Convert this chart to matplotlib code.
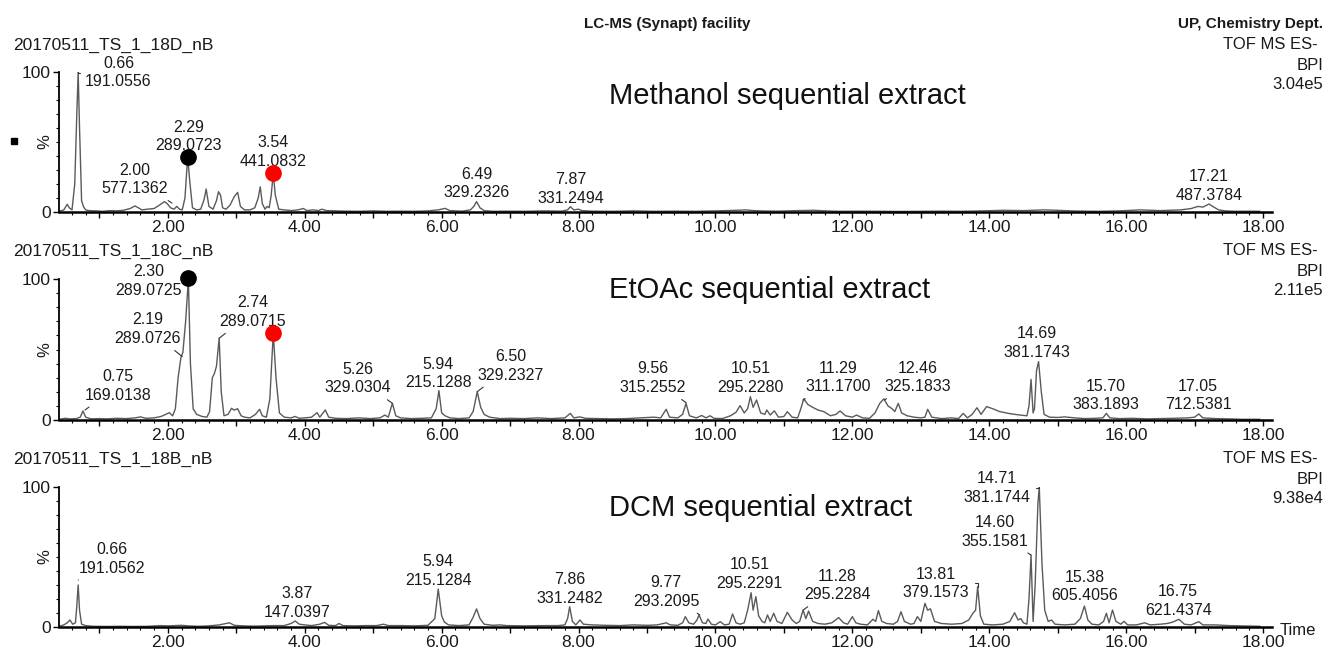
import numpy as np
import matplotlib
matplotlib.use("Agg")
import matplotlib.pyplot as plt
from matplotlib.ticker import MultipleLocator, FuncFormatter

plt.rcParams['font.family'] = ['Liberation Sans', 'DejaVu Sans']

W, H = 1327, 648

# ---- traces: (retention time [min], intensity [%]) ----
methanol_trace = [
    (0.41, 0.5), (0.48, 1.5), (0.53, 5.5), (0.56, 3), (0.60, 1.5), (0.64, 20), (0.67, 70), (0.69, 100),
    (0.71, 60), (0.74, 8), (0.77, 3.5), (0.80, 1.5), (0.85, 1), (0.95, 0.8), (1.05, 0.5), (1.15, 1),
    (1.25, 0.8), (1.35, 1.2), (1.45, 2.5), (1.52, 4.3), (1.57, 3), (1.62, 1.5), (1.70, 2), (1.80, 2.5),
    (1.88, 5), (1.95, 7.4), (1.99, 6), (2.04, 3), (2.09, 2), (2.13, 4), (2.17, 2), (2.21, 1.5),
    (2.25, 10), (2.29, 39.5), (2.32, 22), (2.36, 3), (2.42, 1.5), (2.48, 2), (2.53, 9), (2.56, 16.4),
    (2.60, 4), (2.66, 2), (2.71, 8), (2.74, 14.5), (2.77, 12), (2.80, 3), (2.85, 2), (2.91, 5),
    (2.97, 11), (3.02, 14), (3.06, 4), (3.12, 1.5), (3.20, 1.5), (3.27, 3), (3.32, 10), (3.35, 18),
    (3.38, 6), (3.42, 2), (3.45, 4), (3.48, 3), (3.51, 12), (3.54, 27.6), (3.57, 12), (3.62, 2),
    (3.70, 1.5), (3.80, 1), (3.90, 1.5), (3.98, 2.5), (4.03, 1), (4.12, 1.5), (4.20, 1), (4.25, 2),
    (4.32, 1), (4.45, 0.8), (4.60, 0.6), (4.80, 0.5), (5.00, 0.8), (5.20, 0.5), (5.40, 0.6), (5.60, 0.5),
    (5.80, 0.8), (5.95, 1.5), (6.05, 2.6), (6.12, 1), (6.30, 0.6), (6.42, 1.5), (6.47, 4), (6.51, 7.4),
    (6.56, 3), (6.62, 1), (6.75, 0.5), (6.95, 0.6), (7.20, 0.5), (7.50, 0.8), (7.75, 0.6), (7.84, 1.5),
    (7.88, 3.8), (7.93, 1.5), (8.00, 2), (8.05, 1), (8.20, 0.6), (8.50, 0.5), (8.80, 0.8), (9.10, 0.5),
    (9.40, 0.6), (9.70, 0.5), (10.00, 0.8), (10.30, 1.2), (10.45, 1.5), (10.55, 1), (10.65, 0.8),
    (10.90, 0.6), (11.20, 1), (11.45, 1.2), (11.60, 0.8), (11.80, 0.5), (12.10, 0.6), (12.40, 0.5),
    (12.70, 0.4), (13.00, 0.5), (13.30, 0.6), (13.60, 0.5), (13.90, 0.8), (14.20, 1.2), (14.50, 1),
    (14.80, 1.5), (15.00, 1.2), (15.20, 0.8), (15.40, 0.6), (15.60, 0.5), (15.90, 0.8), (16.20, 1.5),
    (16.50, 1), (16.80, 1.5), (16.95, 2.5), (17.05, 4), (17.12, 3.5), (17.21, 5.7), (17.28, 3.5),
    (17.35, 1.5), (17.45, 0.8), (17.60, 0.5), (17.80, 0.6), (17.95, 0.5),
]

etoac_trace = [
    (0.41, 0.5), (0.50, 1.2), (0.58, 0.8), (0.66, 1.0), (0.72, 2), (0.76, 6.4), (0.80, 2), (0.88, 0.8),
    (1.00, 1), (1.10, 0.8), (1.25, 1.2), (1.40, 1), (1.52, 1.5), (1.60, 2.2), (1.68, 1.2), (1.80, 1.5),
    (1.90, 2.5), (1.97, 4), (2.02, 5.2), (2.07, 3), (2.11, 8), (2.15, 30), (2.19, 44), (2.22, 48),
    (2.26, 70), (2.30, 100), (2.33, 40), (2.37, 8), (2.42, 4), (2.50, 2.5), (2.57, 2), (2.61, 6),
    (2.65, 30), (2.68, 33), (2.71, 38), (2.75, 58), (2.78, 20), (2.82, 3), (2.88, 4), (2.93, 8.3),
    (2.97, 7), (3.02, 8), (3.07, 3), (3.12, 2), (3.20, 1.5), (3.28, 4), (3.34, 7.6), (3.38, 3),
    (3.44, 2), (3.49, 15), (3.54, 61.5), (3.58, 30), (3.63, 5), (3.70, 2), (3.80, 1.5), (3.86, 2.5),
    (3.92, 1.2), (4.00, 1.5), (4.10, 2), (4.18, 5.2), (4.22, 2), (4.30, 7.1), (4.35, 2), (4.45, 1.2),
    (4.60, 1), (4.80, 1.5), (4.95, 1), (5.10, 1.5), (5.17, 3.5), (5.22, 2), (5.28, 11.8), (5.33, 3),
    (5.40, 1.5), (5.55, 1), (5.70, 1.2), (5.85, 1.5), (5.92, 8), (5.96, 20.8), (6.00, 5), (6.05, 3),
    (6.12, 1.5), (6.25, 1), (6.40, 1.5), (6.46, 6), (6.52, 20.1), (6.57, 9), (6.62, 4), (6.70, 2),
    (6.85, 1), (7.00, 1.2), (7.20, 1), (7.40, 1.5), (7.60, 1), (7.80, 1.5), (7.88, 4.7), (7.93, 1.5),
    (8.02, 2.2), (8.10, 1.2), (8.30, 1), (8.50, 0.8), (8.70, 1), (8.90, 1.5), (9.10, 2), (9.20, 1.5),
    (9.28, 7.6), (9.33, 2), (9.45, 1.5), (9.52, 4), (9.57, 11.8), (9.62, 3), (9.72, 1.5), (9.80, 3.2),
    (9.86, 1.5), (9.92, 3), (9.98, 1.2), (10.10, 1), (10.22, 3), (10.30, 5.5), (10.36, 10.2),
    (10.42, 5), (10.47, 8), (10.51, 16.5), (10.55, 9), (10.60, 14.2), (10.66, 5), (10.72, 4),
    (10.75, 7.1), (10.80, 3.5), (10.86, 6.5), (10.92, 2), (11.00, 2.5), (11.05, 5.9), (11.12, 2),
    (11.20, 1.5), (11.24, 7), (11.29, 15), (11.35, 11), (11.42, 9), (11.50, 7), (11.58, 6),
    (11.68, 3), (11.76, 4), (11.82, 6.4), (11.90, 3), (12.00, 2), (12.06, 3.5), (12.15, 1.5),
    (12.25, 1.2), (12.33, 5), (12.40, 11.8), (12.46, 15), (12.52, 10), (12.58, 8), (12.62, 6),
    (12.67, 11.8), (12.72, 5), (12.80, 3), (12.90, 2), (13.00, 1.5), (13.06, 2), (13.10, 7.6),
    (13.16, 2), (13.30, 1), (13.45, 1.5), (13.55, 1), (13.62, 4.7), (13.68, 1.5), (13.75, 4),
    (13.82, 8.7), (13.88, 4), (13.96, 9.5), (14.05, 8), (14.15, 6), (14.30, 4.5), (14.45, 3.5),
    (14.55, 3), (14.58, 10), (14.61, 28.8), (14.64, 5), (14.66, 8), (14.69, 35), (14.72, 41.4),
    (14.76, 20), (14.80, 4), (14.88, 2), (15.00, 1.8), (15.10, 2.2), (15.25, 1.5), (15.40, 1),
    (15.55, 1.2), (15.66, 1.5), (15.71, 4.7), (15.76, 1.5), (15.90, 1), (16.10, 1.2), (16.30, 0.8),
    (16.50, 1), (16.70, 1.2), (16.90, 1.5), (17.00, 2), (17.06, 4.3), (17.12, 1.5), (17.30, 1),
    (17.50, 0.8), (17.70, 0.5), (17.95, 0.5),
]

dcm_trace = [
    (0.41, 0.5), (0.48, 1.5), (0.53, 3), (0.57, 5), (0.61, 2), (0.65, 3), (0.67, 15), (0.69, 30),
    (0.71, 12), (0.74, 2), (0.80, 1), (0.90, 0.5), (1.10, 0.4), (1.30, 0.5), (1.50, 0.4), (1.70, 0.5),
    (1.90, 1), (2.00, 0.8), (2.10, 1), (2.20, 1.2), (2.30, 0.8), (2.45, 0.5), (2.60, 0.8), (2.75, 1.5),
    (2.82, 2.2), (2.90, 3), (2.97, 1.2), (3.10, 0.8), (3.25, 0.6), (3.40, 0.8), (3.55, 1), (3.70, 1),
    (3.80, 2.5), (3.86, 4.3), (3.92, 2), (4.00, 1.5), (4.10, 1), (4.22, 2), (4.29, 3.3), (4.35, 1.2),
    (4.45, 1), (4.50, 2.5), (4.56, 1), (4.70, 0.8), (4.90, 1), (5.05, 1), (5.15, 2), (5.22, 1),
    (5.40, 1), (5.60, 0.8), (5.80, 1.2), (5.90, 6), (5.95, 27.1), (6.00, 8), (6.04, 3.5), (6.10, 1.5),
    (6.25, 1), (6.40, 1.5), (6.46, 7), (6.51, 12.9), (6.56, 6), (6.62, 2), (6.75, 1.2), (6.85, 1.5),
    (6.95, 1), (7.20, 0.8), (7.50, 1), (7.70, 1), (7.80, 1.5), (7.84, 6), (7.87, 14.5), (7.91, 4),
    (7.96, 1.5), (8.02, 5), (8.07, 2), (8.20, 1.5), (8.40, 1.2), (8.60, 1), (8.80, 1.5), (9.00, 1.2),
    (9.15, 1.5), (9.28, 3), (9.34, 1.5), (9.45, 1.2), (9.52, 3), (9.56, 7.4), (9.61, 3), (9.68, 2),
    (9.73, 5), (9.76, 8.6), (9.81, 3), (9.86, 2.5), (9.89, 5.7), (9.94, 2), (10.00, 1.5), (10.07, 3.8),
    (10.13, 1.5), (10.20, 2), (10.25, 9.3), (10.30, 3), (10.36, 2), (10.42, 3), (10.47, 12),
    (10.52, 24.5), (10.55, 12), (10.59, 21.7), (10.63, 8), (10.68, 4), (10.72, 3), (10.76, 8.6),
    (10.80, 4), (10.85, 9.8), (10.90, 4), (10.97, 2.5), (11.05, 10.5), (11.12, 5), (11.18, 2.5),
    (11.23, 4), (11.28, 12.1), (11.32, 6), (11.36, 11.4), (11.42, 4), (11.50, 2.5), (11.60, 2),
    (11.70, 3), (11.80, 6.7), (11.87, 3), (11.93, 2), (12.00, 7.4), (12.05, 3), (12.12, 2),
    (12.22, 1.5), (12.30, 5.5), (12.34, 4), (12.38, 11.7), (12.43, 4), (12.50, 2.5), (12.60, 2),
    (12.66, 4), (12.71, 10.9), (12.76, 4), (12.85, 2), (12.90, 2.5), (12.95, 7.4), (13.00, 4),
    (13.06, 16.9), (13.10, 12), (13.14, 13), (13.20, 4), (13.30, 2.5), (13.45, 2), (13.60, 2.5),
    (13.70, 5), (13.76, 9.8), (13.80, 12), (13.83, 28.8), (13.87, 8), (13.92, 2), (14.05, 1.5),
    (14.20, 2), (14.30, 4), (14.37, 10.2), (14.42, 5), (14.46, 6), (14.50, 3), (14.55, 2),
    (14.58, 20), (14.61, 51.4), (14.64, 4), (14.67, 30), (14.71, 88), (14.73, 100), (14.77, 45),
    (14.81, 12), (14.86, 4), (14.91, 5), (14.96, 2), (15.10, 1.5), (15.25, 2), (15.33, 6),
    (15.39, 15), (15.44, 5), (15.50, 2), (15.60, 1.5), (15.67, 4), (15.71, 9.8), (15.75, 3),
    (15.80, 12.1), (15.85, 4), (15.92, 2), (15.97, 4), (16.02, 1.5), (16.15, 1.5), (16.27, 3),
    (16.35, 1.5), (16.50, 2), (16.60, 2.5), (16.68, 3.5), (16.77, 5.5), (16.85, 2), (16.95, 1.5),
    (17.06, 3.8), (17.12, 1.5), (17.30, 1.5), (17.50, 1), (17.70, 0.8), (17.95, 0.5),
]

# ---- peak labels (rt / m/z) ----
methanol_labels = ["0.66\n191.0556", "2.00\n577.1362", "2.29\n289.0723", "3.54\n441.0832",
                   "6.49\n329.2326", "7.87\n331.2494", "17.21\n487.3784"]
etoac_labels = ["2.30\n289.0725", "2.19\n289.0726", "2.74\n289.0715", "0.75\n169.0138",
                "5.26\n329.0304", "5.94\n215.1288", "6.50\n329.2327", "9.56\n315.2552",
                "10.51\n295.2280", "11.29\n311.1700", "12.46\n325.1833", "14.69\n381.1743",
                "15.70\n383.1893", "17.05\n712.5381"]
dcm_labels = ["0.66\n191.0562", "3.87\n147.0397", "5.94\n215.1284", "7.86\n331.2482",
              "9.77\n293.2095", "10.51\n295.2291", "11.28\n295.2284", "13.81\n379.1573",
              "14.60\n355.1581", "14.71\n381.1744", "15.38\n605.4056", "16.75\n621.4374"]

# label placement (data coords) and leader targets (kind, peak point)
methanol_label_pos = [(1.28, 99.6), (1.52, 23.2), (2.30, 54), (3.54, 42.7), (6.51, 20.4),
                      (7.88, 16.3), (17.21, 18.7)]
methanol_leaders = [('bracket', (0.69, 100)), ('line', (2.06, 6.4)), None, None, None, None, None]
etoac_label_pos = [(1.72, 98.7), (1.71, 64.4), (3.24, 76.5), (1.27, 24.2), (4.78, 29.4),
                   (5.95, 33), (7.01, 38.4), (9.08, 29.6), (10.51, 29.6), (11.79, 30.1),
                   (12.96, 30.1), (14.70, 54.4), (15.70, 17.5), (17.05, 17.5)]
etoac_leaders = [None, ('line', (2.21, 45)), ('line', (2.75, 58)), ('line', (0.79, 7.1)),
                 ('line', (5.28, 11.8)), None, ('line', (6.52, 20.1)), ('line', (9.57, 12.3)),
                 None, ('line', (11.28, 14.2)), ('line', (12.47, 14.2)), None, None, None]
dcm_label_pos = [(1.19, 48.7), (3.89, 17), (5.95, 39.9), (7.87, 27), (9.28, 24.9), (10.50, 37.7),
                 (11.78, 29.6), (13.22, 31.1), (14.08, 67.9), (14.11, 99.4), (15.39, 28.8),
                 (16.76, 18.7)]
dcm_leaders = [('line', (0.69, 33.6)), None, None, None, ('line', (9.77, 8.6)), None,
               ('line', (11.28, 12.1)), ('bracket', (13.83, 28.8)), ('line', (14.61, 51.4)),
               ('bracket', (14.73, 100)), None, None]

# marked compounds (black / red dots)
methanol_dots = [(2.29, 39.5, 'black'), (3.54, 27.6, 'red')]
etoac_dots = [(2.30, 100.5, 'black'), (3.54, 61.5, 'red')]

file_names = ["20170511_TS_1_18D_nB", "20170511_TS_1_18C_nB", "20170511_TS_1_18B_nB"]
extract_names = ["Methanol sequential extract", "EtOAc sequential extract", "DCM sequential extract"]
bpi_max = ["3.04e5", "2.11e5", "9.38e4"]

traces = [methanol_trace, etoac_trace, dcm_trace]
labels = [methanol_labels, etoac_labels, dcm_labels]
label_pos = [methanol_label_pos, etoac_label_pos, dcm_label_pos]
leaders = [methanol_leaders, etoac_leaders, dcm_leaders]
dots = [methanol_dots, etoac_dots, []]

# ---- layout (pixels) ----
panel_y = [(72, 212), (279, 420), (487, 627)]   # y of 100 % and 0 %
ax_left, ax_right = 59, 1272
name_base = [50, 256, 464]
big_base = [104, 298, 516]
txt_col = '#1a1a1a'
trace_col = '#5a5a5a'

fig = plt.figure(figsize=(W / 100, H / 100), dpi=100)


def ftext(x, y, s, color=txt_col, **kw):
    fig.text(x / W, 1 - y / H, s, color=color, **kw)


for i in range(3):
    top, bot = panel_y[i]
    ax = fig.add_axes([ax_left / W, 1 - bot / H, (ax_right - ax_left) / W, (bot - top) / H])
    data = np.array(traces[i])
    ax.plot(data[:, 0], data[:, 1], color=trace_col, lw=1.0)
    ax.set_xlim(0.41, 18.13)
    ax.set_ylim(0, 100)

    for s in ['top', 'right']:
        ax.spines[s].set_visible(False)
    ax.spines['bottom'].set_linewidth(1.8)
    ax.spines['left'].set_linewidth(1.3)

    ax.xaxis.set_major_locator(MultipleLocator(1))
    ax.xaxis.set_minor_locator(MultipleLocator(0.2))
    ax.xaxis.set_major_formatter(FuncFormatter(
        lambda v, p: f"{v:.2f}" if int(round(v)) % 2 == 0 else ""))
    ax.set_yticks([0, 100])
    ax.set_yticklabels(['0', '100'])
    ax.yaxis.set_minor_locator(MultipleLocator(10))
    ax.tick_params(axis='both', which='major', length=4, width=1, labelsize=12.5,
                   labelcolor=txt_col)
    ax.tick_params(axis='x', which='major', pad=1.5)
    ax.tick_params(axis='y', which='major', pad=2)
    ax.tick_params(axis='both', which='minor', length=2, width=0.8)
    ax.text(-0.012, 50, '%', transform=ax.get_yaxis_transform(), rotation=90,
            ha='center', va='center', fontsize=12, color=txt_col)

    for lab, (lx, ly), ld in zip(labels[i], label_pos[i], leaders[i]):
        if ld is None:
            ax.text(lx, ly, lab, ha='center', va='center', fontsize=11.5,
                    linespacing=1.3, color=txt_col)
        else:
            kind, tip = ld
            conn = 'angle,angleA=0,angleB=90,rad=0' if kind == 'bracket' else 'arc3'
            ax.annotate(lab, xy=tip, xytext=(lx, ly), ha='center', va='center',
                        fontsize=11.5, linespacing=1.3, color=txt_col,
                        arrowprops=dict(arrowstyle='-', color='#333333', lw=0.8,
                                        shrinkA=2, shrinkB=0, connectionstyle=conn),
                        annotation_clip=False)

    for dx, dy, c in dots[i]:
        ax.plot(dx, dy, 'o', color=c, ms=11, clip_on=False, zorder=5)

    ftext(12.7, name_base[i], file_names[i], fontsize=12.5, va='baseline', ha='left')
    ftext(609, big_base[i], extract_names[i], color='#111111', fontsize=21,
          va='baseline', ha='left')
    ftext(1318, name_base[i] - 1, "TOF MS ES-", fontsize=12, va='baseline', ha='right')
    ftext(1323, name_base[i] + 20, "BPI", fontsize=12, va='baseline', ha='right')
    ftext(1323, name_base[i] + 39, bpi_max[i], fontsize=12, va='baseline', ha='right')

ftext(667.5, 28, "LC-MS (Synapt) facility", fontsize=11, fontweight='bold', va='baseline', ha='center')
ftext(1323, 28, "UP, Chemistry Dept.", fontsize=11, fontweight='bold', va='baseline', ha='right')
ftext(1280, 635, "Time", fontsize=12, va='baseline', ha='left')
fig.lines.append(plt.Line2D([14 / W], [1 - 141 / H], marker='s', color='black', ms=4.5,
                            transform=fig.transFigure))

fig.savefig("out.png", dpi=100)
